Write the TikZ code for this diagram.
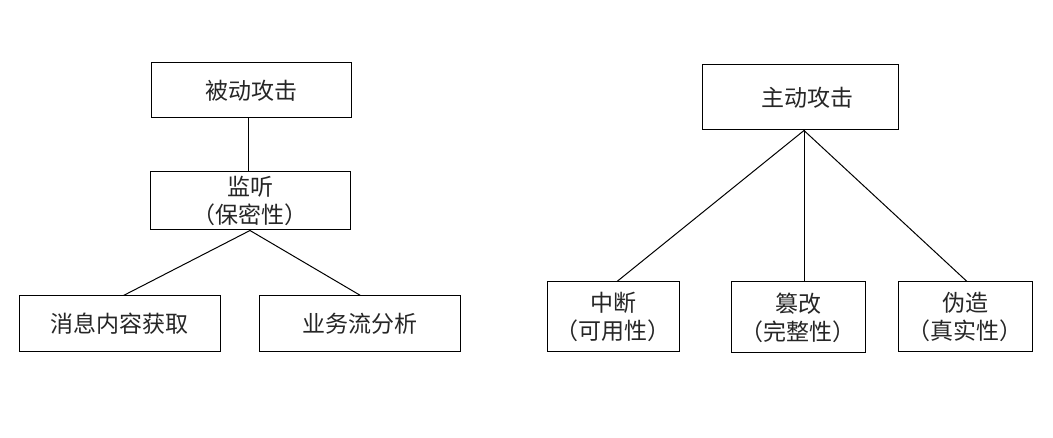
\documentclass[tikz,border=0pt]{standalone}
\usepackage{fontspec}
\newfontfamily\cjk{Noto Sans CJK SC}
\begin{document}
\begin{tikzpicture}[x=1pt,y=-1pt,
  box/.style={draw=black,line width=1pt,rectangle,inner sep=0pt,align=center,
    font=\cjk\fontsize{23}{28}\selectfont,text=black!85},
  link/.style={draw=black,line width=1pt}]
\useasboundingbox[fill=white] (0,0) rectangle (1053,438);
% left tree
\node[box,minimum width=200,minimum height=55] (bd) at (251,90.5) {被动攻击};
\node[box,minimum width=200,minimum height=58] (jt) at (250,201) {监听\\（保密性）};
\node[box,minimum width=201,minimum height=56] (xx) at (119.5,324) {消息内容获取};
\node[box,minimum width=201,minimum height=56] (yw) at (359.5,324) {业务流分析};
\draw[link] ([xshift=-3]bd.south) -- ([xshift=-3]bd.south |- jt.north);
\draw[link] (jt.south) -- ([xshift=4]xx.north);
\draw[link] (jt.south) -- ([xshift=1]yw.north);
% right tree
\node[box,minimum width=196,minimum height=65] (zd) at (800,97.5) {\hspace*{14pt}主动攻击};
\node[box,minimum width=132,minimum height=70] (zdn) at (613,317) {中断\\（可用性）};
\node[box,minimum width=134,minimum height=71] (cg) at (798,317.5) {篡改\\（完整性）};
\node[box,minimum width=134,minimum height=70] (wz) at (965,317) {伪造\\（真实性）};
\coordinate (top) at ([xshift=4]zd.south);
\draw[link] (top) -- ([xshift=4]zdn.north);
\draw[link] (top) -- (top |- cg.north);
\draw[link] (top) -- ([xshift=2]wz.north);
\end{tikzpicture}
\end{document}
